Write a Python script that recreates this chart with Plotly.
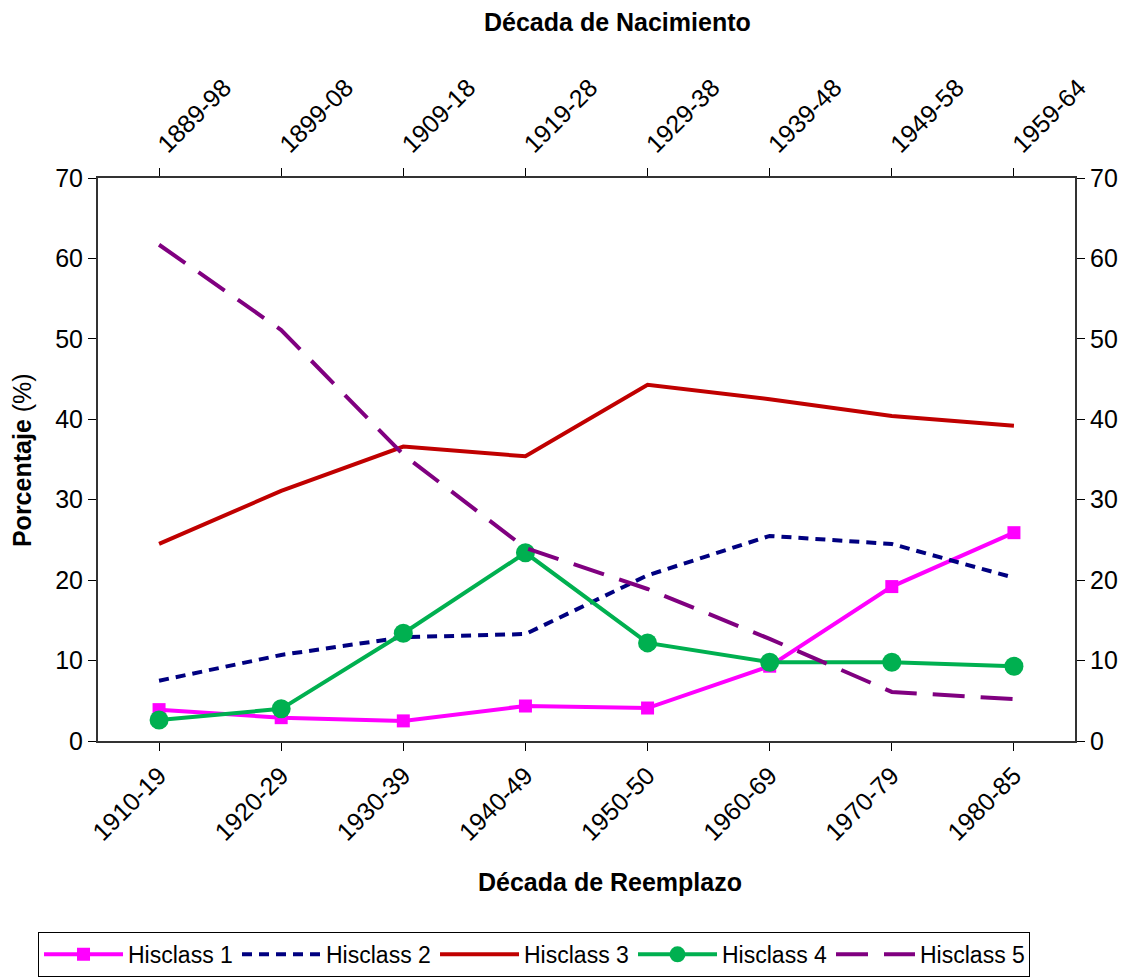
import plotly.graph_objects as go

reemplazo = ["1910-19", "1920-29", "1930-39", "1940-49", "1950-50", "1960-69", "1970-79", "1980-85"]
nacimiento = ["1889-98", "1899-08", "1909-18", "1919-28", "1929-38", "1939-48", "1949-58", "1959-64"]

hisclass1 = [3.9, 2.9, 2.5, 4.35, 4.1, 9.3, 19.2, 25.9]
hisclass2 = [7.5, 10.7, 12.9, 13.3, 20.6, 25.5, 24.5, 20.3]
hisclass3 = [24.5, 31.1, 36.6, 35.4, 44.3, 42.5, 40.4, 39.2]
hisclass4 = [2.6, 4.0, 13.4, 23.4, 12.2, 9.8, 9.8, 9.3]
hisclass5 = [61.7, 51.1, 35.6, 24.0, 18.9, 12.7, 6.1, 5.2]

FONT = "Liberation Sans, Arial, sans-serif"

fig = go.Figure()
fig.add_trace(go.Scatter(x=reemplazo, y=hisclass1, name="Hisclass 1", mode="lines+markers",
                         line=dict(color="#FF00FF", width=4),
                         marker=dict(symbol="square", size=13, color="#FF00FF")))
fig.add_trace(go.Scatter(x=reemplazo, y=hisclass2, name="Hisclass 2", mode="lines",
                         line=dict(color="#000080", width=4, dash="10px,7px")))
fig.add_trace(go.Scatter(x=reemplazo, y=hisclass3, name="Hisclass 3", mode="lines",
                         line=dict(color="#C00000", width=4)))
fig.add_trace(go.Scatter(x=reemplazo, y=hisclass4, name="Hisclass 4", mode="lines+markers",
                         line=dict(color="#00B050", width=4),
                         marker=dict(symbol="circle", size=19, color="#00B050")))
fig.add_trace(go.Scatter(x=reemplazo, y=hisclass5, name="Hisclass 5", mode="lines",
                         line=dict(color="#800080", width=4, dash="32px,16px")))
# invisible trace so the top/right axes exist
fig.add_trace(go.Scatter(x=nacimiento, y=[None] * len(nacimiento), xaxis="x2", yaxis="y2",
                         showlegend=False, hoverinfo="skip", mode="lines"))

axis_common = dict(showgrid=False, zeroline=False, showline=True, linecolor="#333333",
                   linewidth=2, ticks="outside", ticklen=8, tickcolor="black",
                   tickfont=dict(family=FONT, size=25, color="black"))

fig.update_layout(
    width=1131, height=978,
    margin=dict(l=90, r=64, t=170, b=245, autoexpand=False),
    paper_bgcolor="white", plot_bgcolor="white",
    font=dict(family=FONT, color="black"),
    xaxis=dict(axis_common, type="category", range=[-0.5, 7.5], tickangle=-45),
    xaxis2=dict(axis_common, type="category", range=[-0.5, 7.5], tickangle=-45,
                overlaying="x", side="top", anchor="y", categoryarray=nacimiento,
                categoryorder="array"),
    yaxis=dict(axis_common, range=[0, 70], dtick=10),
    yaxis2=dict(axis_common, range=[0, 70], dtick=10, overlaying="y", side="right",
                anchor="x"),
    legend=dict(orientation="h", x=-0.0614, xanchor="left", y=-0.339, yanchor="top",
                bordercolor="black", borderwidth=1, font=dict(family=FONT, size=23),
                entrywidth=104, entrywidthmode="pixels", itemwidth=79,
                traceorder="normal"),
    showlegend=True,
    annotations=[
        dict(text="<b>Década de Nacimiento</b>", xref="paper", yref="paper",
             x=0.532, y=1.277, xanchor="center", yanchor="middle",
             showarrow=False, font=dict(size=25)),
        dict(text="<b>Década de Reemplazo</b>", xref="paper", yref="paper",
             x=0.524, y=-0.2504, xanchor="center", yanchor="middle",
             showarrow=False, font=dict(size=25)),
        dict(text="<b>Porcentaje</b> (%)", xref="paper", yref="paper",
             x=-0.0778, y=0.499, xanchor="center", yanchor="middle", textangle=-90,
             showarrow=False, font=dict(size=25)),
    ],
)

fig.write_html("out.html")
